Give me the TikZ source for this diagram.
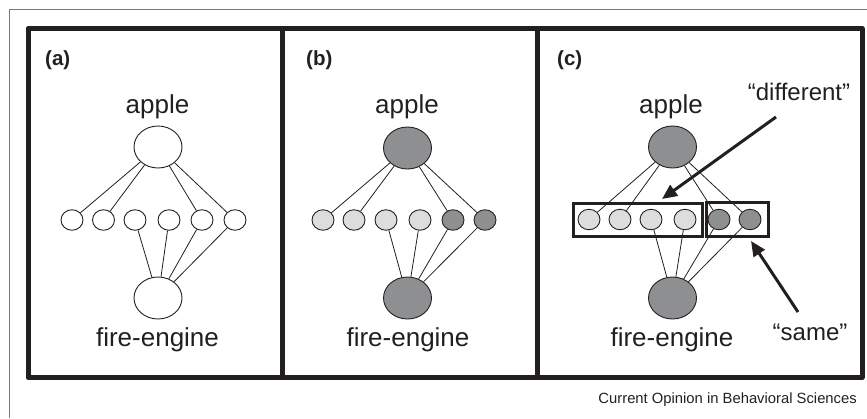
\documentclass[tikz,border=0pt]{standalone}
\usepackage{fontspec}
\setmainfont{Liberation Sans}
\usetikzlibrary{shapes.geometric,arrows.meta}

\definecolor{ink}{HTML}{231F20}
\definecolor{darkfill}{HTML}{8E8F91}
\definecolor{lightfill}{HTML}{DCDDDF}
\definecolor{framegray}{HTML}{7A7A7A}

\begin{document}
\begin{tikzpicture}[x=1pt,y=-1pt,
  panel/.style={draw=ink, line width=5pt, line join=round},
  bignode/.style={ellipse, draw=ink, line width=0.9pt, minimum width=48pt, minimum height=42pt, inner sep=0pt},
  smallnode/.style={ellipse, draw=ink, line width=0.9pt, minimum width=22pt, minimum height=20.5pt, inner sep=0pt},
  link/.style={draw=ink, line width=0.8pt},
  word/.style={inner sep=0pt, font=\fontsize{26}{30}\selectfont, text=ink},
  quote/.style={inner sep=0pt, font=\fontsize{24}{28}\selectfont, text=ink},
  tag/.style={inner sep=0pt, anchor=west, font=\fontsize{20.5}{24}\selectfont\bfseries, text=ink},
  groupbox/.style={draw=ink, line width=3pt, inner sep=0pt},
  pointer/.style={draw=ink, line width=3pt, -{Triangle[length=15pt,width=13pt]}},
]
\useasboundingbox (0,0) rectangle (867,418);

% thin outer frame (top and left edges)
\draw[framegray, line width=1pt] (9.5,418) -- (9.5,9.5) -- (867,9.5);

% the three panels
\draw[panel] (28,28.5) rectangle (862,377.5);
\draw[panel] (282,28.5) -- (282,377.5);
\draw[panel] (537,28.5) -- (537,377.5);

% panel labels
\node[tag] (la) at (45,60) {(a)};
\node[tag] (lb) at (306,60) {(b)};
\node[tag] (lc) at (557,60) {(c)};

% ---------- panel (a) ----------
\node[word] (wa1) at (157.5,107) {apple};
\node[word] (wa2) at (157.5,340) {fire-engine};
\node[bignode, fill=white] (a0) at (158,147) {};
\node[bignode, fill=white] (a7) at (158,298) {};
\foreach \i/\x in {1/72,2/103.5,3/135,4/169,5/202,6/235}
  \node[smallnode, fill=white] (a\i) at (\x,220) {};
\foreach \i in {1,2,5,6} \path[link] (a0) -- (a\i);
\foreach \i in {3,4,5,6} \path[link] (a7) -- (a\i);

% ---------- panel (b) ----------
\node[word] (wb1) at (407,107) {apple};
\node[word] (wb2) at (408,340) {fire-engine};
\node[bignode, fill=darkfill] (b0) at (407.5,148) {};
\node[bignode, fill=darkfill] (b7) at (407.5,298) {};
\foreach \i/\x in {1/323,2/354,3/386,4/420}
  \node[smallnode, fill=lightfill] (b\i) at (\x,220) {};
\foreach \i/\x in {5/453,6/485}
  \node[smallnode, fill=darkfill] (b\i) at (\x,220) {};
\foreach \i in {1,2,5,6} \path[link] (b0) -- (b\i);
\foreach \i in {3,4,5,6} \path[link] (b7) -- (b\i);

% ---------- panel (c) ----------
\node[word] (wc1) at (671,107) {apple};
\node[word] (wc2) at (672,340) {fire-engine};
\node[bignode, fill=darkfill] (c0) at (672.5,147) {};
\node[bignode, fill=darkfill] (c7) at (672.5,298) {};
\foreach \i/\x in {1/589,2/620,3/651,4/685}
  \node[smallnode, fill=lightfill] (c\i) at (\x,219.5) {};
\foreach \i/\x in {5/719,6/750}
  \node[smallnode, fill=darkfill] (c\i) at (\x,219.5) {};
\foreach \i in {1,2,5,6} \path[link] (c0) -- (c\i);
\foreach \i in {3,4,5,6} \path[link] (c7) -- (c\i);

% grouping boxes
\node[groupbox, minimum width=129pt, minimum height=33pt] (diffbox) at (637.5,219.5) {};
\node[groupbox, minimum width=62pt, minimum height=34pt] (samebox) at (737,219) {};

% annotations and their arrows
\node[quote] (qdiff) at (799,92) {“different”};
\node[quote] (qsame) at (810,332) {“same”};
\coordinate (difftail) at (776,117);
\coordinate (difftip) at (662,199);
\coordinate (sametail) at (798,312);
\coordinate (sametip) at (751,241);
\draw[pointer] (difftail) -- (difftip);
\draw[pointer] (sametail) -- (sametip);

% caption
\node[inner sep=0pt, anchor=east, font=\fontsize{14.8}{17}\selectfont, text=ink] (cap) at (857,400) {Current Opinion in Behavioral Sciences};
\end{tikzpicture}
\end{document}
